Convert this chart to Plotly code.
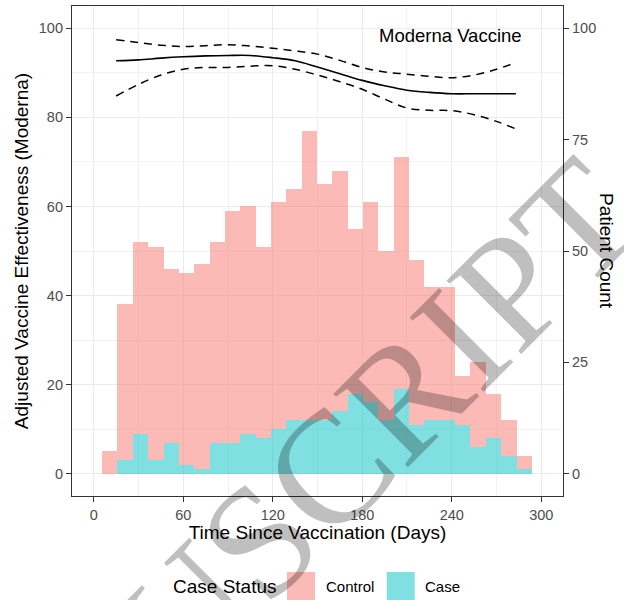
import numpy as np
import plotly.graph_objects as go

# ---------------- data ----------------
# histogram bins (days since vaccination)
bin_left = 5.6
bin_width = 10.29
total_counts = [5, 38, 52, 51, 46, 45, 47, 52, 59, 60, 51, 61, 64, 77, 65, 68, 55, 61,
                50, 71, 48, 42, 42, 22, 25, 18, 12, 4]
case_counts = [0, 3, 9, 3, 7, 2, 1, 7, 7, 9, 8, 10, 12, 12, 12, 14, 18, 16,
               12, 19, 11, 12, 12, 11, 6, 8, 4, 1]

# vaccine effectiveness curve (Moderna)
ve_days = [15, 30, 45, 60, 75, 90, 105, 120, 135, 150, 165, 180, 195, 210, 225, 240, 255, 270, 283]
ve_est = [92.7, 92.9, 93.3, 93.6, 93.8, 93.9, 93.9, 93.4, 92.7, 91.3, 89.8, 88.3, 87.1, 86.1,
          85.6, 85.3, 85.3, 85.3, 85.3]
ve_upper = [97.4, 96.8, 96.2, 95.9, 96.1, 96.3, 96.0, 95.5, 94.9, 94.2, 92.8, 91.2, 90.2, 89.7,
            89.2, 88.9, 89.5, 90.8, 92.3]
ve_lower = [84.8, 87.4, 89.5, 90.8, 91.2, 91.2, 91.5, 91.6, 90.8, 89.5, 88.0, 86.3, 84.1, 82.1,
            81.6, 81.5, 80.6, 79.1, 77.4]

x_ticks = [0, 60, 120, 180, 240, 300]
y_left_ticks = [0, 20, 40, 60, 80, 100]
y_right_ticks = [0, 25, 50, 75, 100]

# ---------------- derived ----------------
centers = bin_left + bin_width * (np.arange(len(total_counts)) + 0.5)
control_counts = [t - c for t, c in zip(total_counts, case_counts)]

PINK = "rgba(248,118,109,0.5)"
CYAN = "rgba(0,191,196,0.5)"
FONT = "Liberation Sans, Arial, sans-serif"

W, H = 624, 600
ML, MR, MT, MB = 72, 61, 6, 104
PW, PH = W - ML - MR, H - MT - MB


def px(xp):
    return (xp - ML) / PW


def py(yp):
    return (H - MB - yp) / PH


fig = go.Figure()

fig.add_trace(go.Bar(x=centers, y=case_counts, width=bin_width, marker=dict(color=CYAN, line=dict(width=0)),
                     name="Case", yaxis="y2", showlegend=False))
fig.add_trace(go.Bar(x=centers, y=control_counts, width=bin_width, marker=dict(color=PINK, line=dict(width=0)),
                     name="Control", yaxis="y2", showlegend=False))

fig.add_trace(go.Scatter(x=ve_days, y=ve_upper, mode="lines", line=dict(color="black", width=1.5, dash="8px,6px", shape="spline"),
                         showlegend=False, hoverinfo="skip"))
fig.add_trace(go.Scatter(x=ve_days, y=ve_lower, mode="lines", line=dict(color="black", width=1.5, dash="8px,6px", shape="spline"),
                         showlegend=False, hoverinfo="skip"))
fig.add_trace(go.Scatter(x=ve_days, y=ve_est, mode="lines", line=dict(color="black", width=1.6, shape="spline"),
                         showlegend=False))

axis_common = dict(showline=True, linecolor="#333333", linewidth=1.2, mirror=True,
                   ticks="outside", ticklen=5, tickwidth=1.1, tickcolor="#333333",
                   tickfont=dict(family=FONT, size=14.5, color="#4D4D4D"),
                   zeroline=False)

fig.update_layout(
    width=W, height=H,
    margin=dict(l=ML, r=MR, t=MT, b=MB),
    paper_bgcolor="white", plot_bgcolor="white",
    barmode="stack", bargap=0,
    xaxis=dict(range=[-14.6, 314.6], tickvals=x_ticks,
               showgrid=True, gridcolor="#EBEBEB", gridwidth=1.1,
               minor=dict(dtick=30, tick0=0, showgrid=True, gridcolor="#F2F2F2", gridwidth=0.6, ticks=""),
               title=dict(text="Time Since Vaccination (Days)", font=dict(family=FONT, size=19, color="black"), standoff=4),
               **axis_common),
    yaxis=dict(range=[-5, 105], tickvals=y_left_ticks,
               showgrid=True, gridcolor="#EBEBEB", gridwidth=1.1,
               minor=dict(dtick=10, tick0=0, showgrid=True, gridcolor="#F2F2F2", gridwidth=0.6, ticks=""),
               title=dict(text="Adjusted Vaccine Effectiveness (Moderna)", font=dict(family=FONT, size=19, color="black"), standoff=5),
               **axis_common),
    yaxis2=dict(range=[-5, 105], tickvals=y_right_ticks, overlaying="y", side="right",
                showgrid=False, **axis_common),
    font=dict(family=FONT),
)

annotations = [
    dict(text="Moderna Vaccine", x=px(450), y=py(35), xref="paper", yref="paper", showarrow=False,
         font=dict(family=FONT, size=18.5, color="black"), xanchor="center", yanchor="middle"),
    dict(text="Patient Count", x=px(607), y=py(251), xref="paper", yref="paper", showarrow=False,
         font=dict(family=FONT, size=19, color="black"), textangle=90, xanchor="center", yanchor="middle"),
    # legend
    dict(text="Case Status", x=px(171), y=py(586.5), xref="paper", yref="paper", showarrow=False,
         font=dict(family=FONT, size=19, color="black"), xanchor="left", yanchor="middle"),
    dict(text="Control", x=px(324), y=py(586.5), xref="paper", yref="paper", showarrow=False,
         font=dict(family=FONT, size=15, color="black"), xanchor="left", yanchor="middle"),
    dict(text="Case", x=px(423), y=py(586.5), xref="paper", yref="paper", showarrow=False,
         font=dict(family=FONT, size=15, color="black"), xanchor="left", yanchor="middle"),
    # watermark
    dict(text="MANUSCRIPT", x=px(246), y=py(553), xref="paper", yref="paper", showarrow=False,
         font=dict(family="Liberation Serif, Times New Roman, serif", size=160, color="rgba(0,0,0,0.25)"),
         textangle=-45, xanchor="center", yanchor="middle"),
]
fig.update_layout(annotations=annotations)

fig.update_layout(shapes=[
    dict(type="rect", xref="paper", yref="paper", x0=px(287), x1=px(315), y0=py(600), y1=py(572),
         fillcolor=PINK, line=dict(width=0), layer="above"),
    dict(type="rect", xref="paper", yref="paper", x0=px(386.7), x1=px(414.7), y0=py(600), y1=py(572),
         fillcolor=CYAN, line=dict(width=0), layer="above"),
])

fig.write_html("out.html", config={"displayModeBar": False},
               post_script="document.body.style.margin='0';document.body.style.padding='0';")
